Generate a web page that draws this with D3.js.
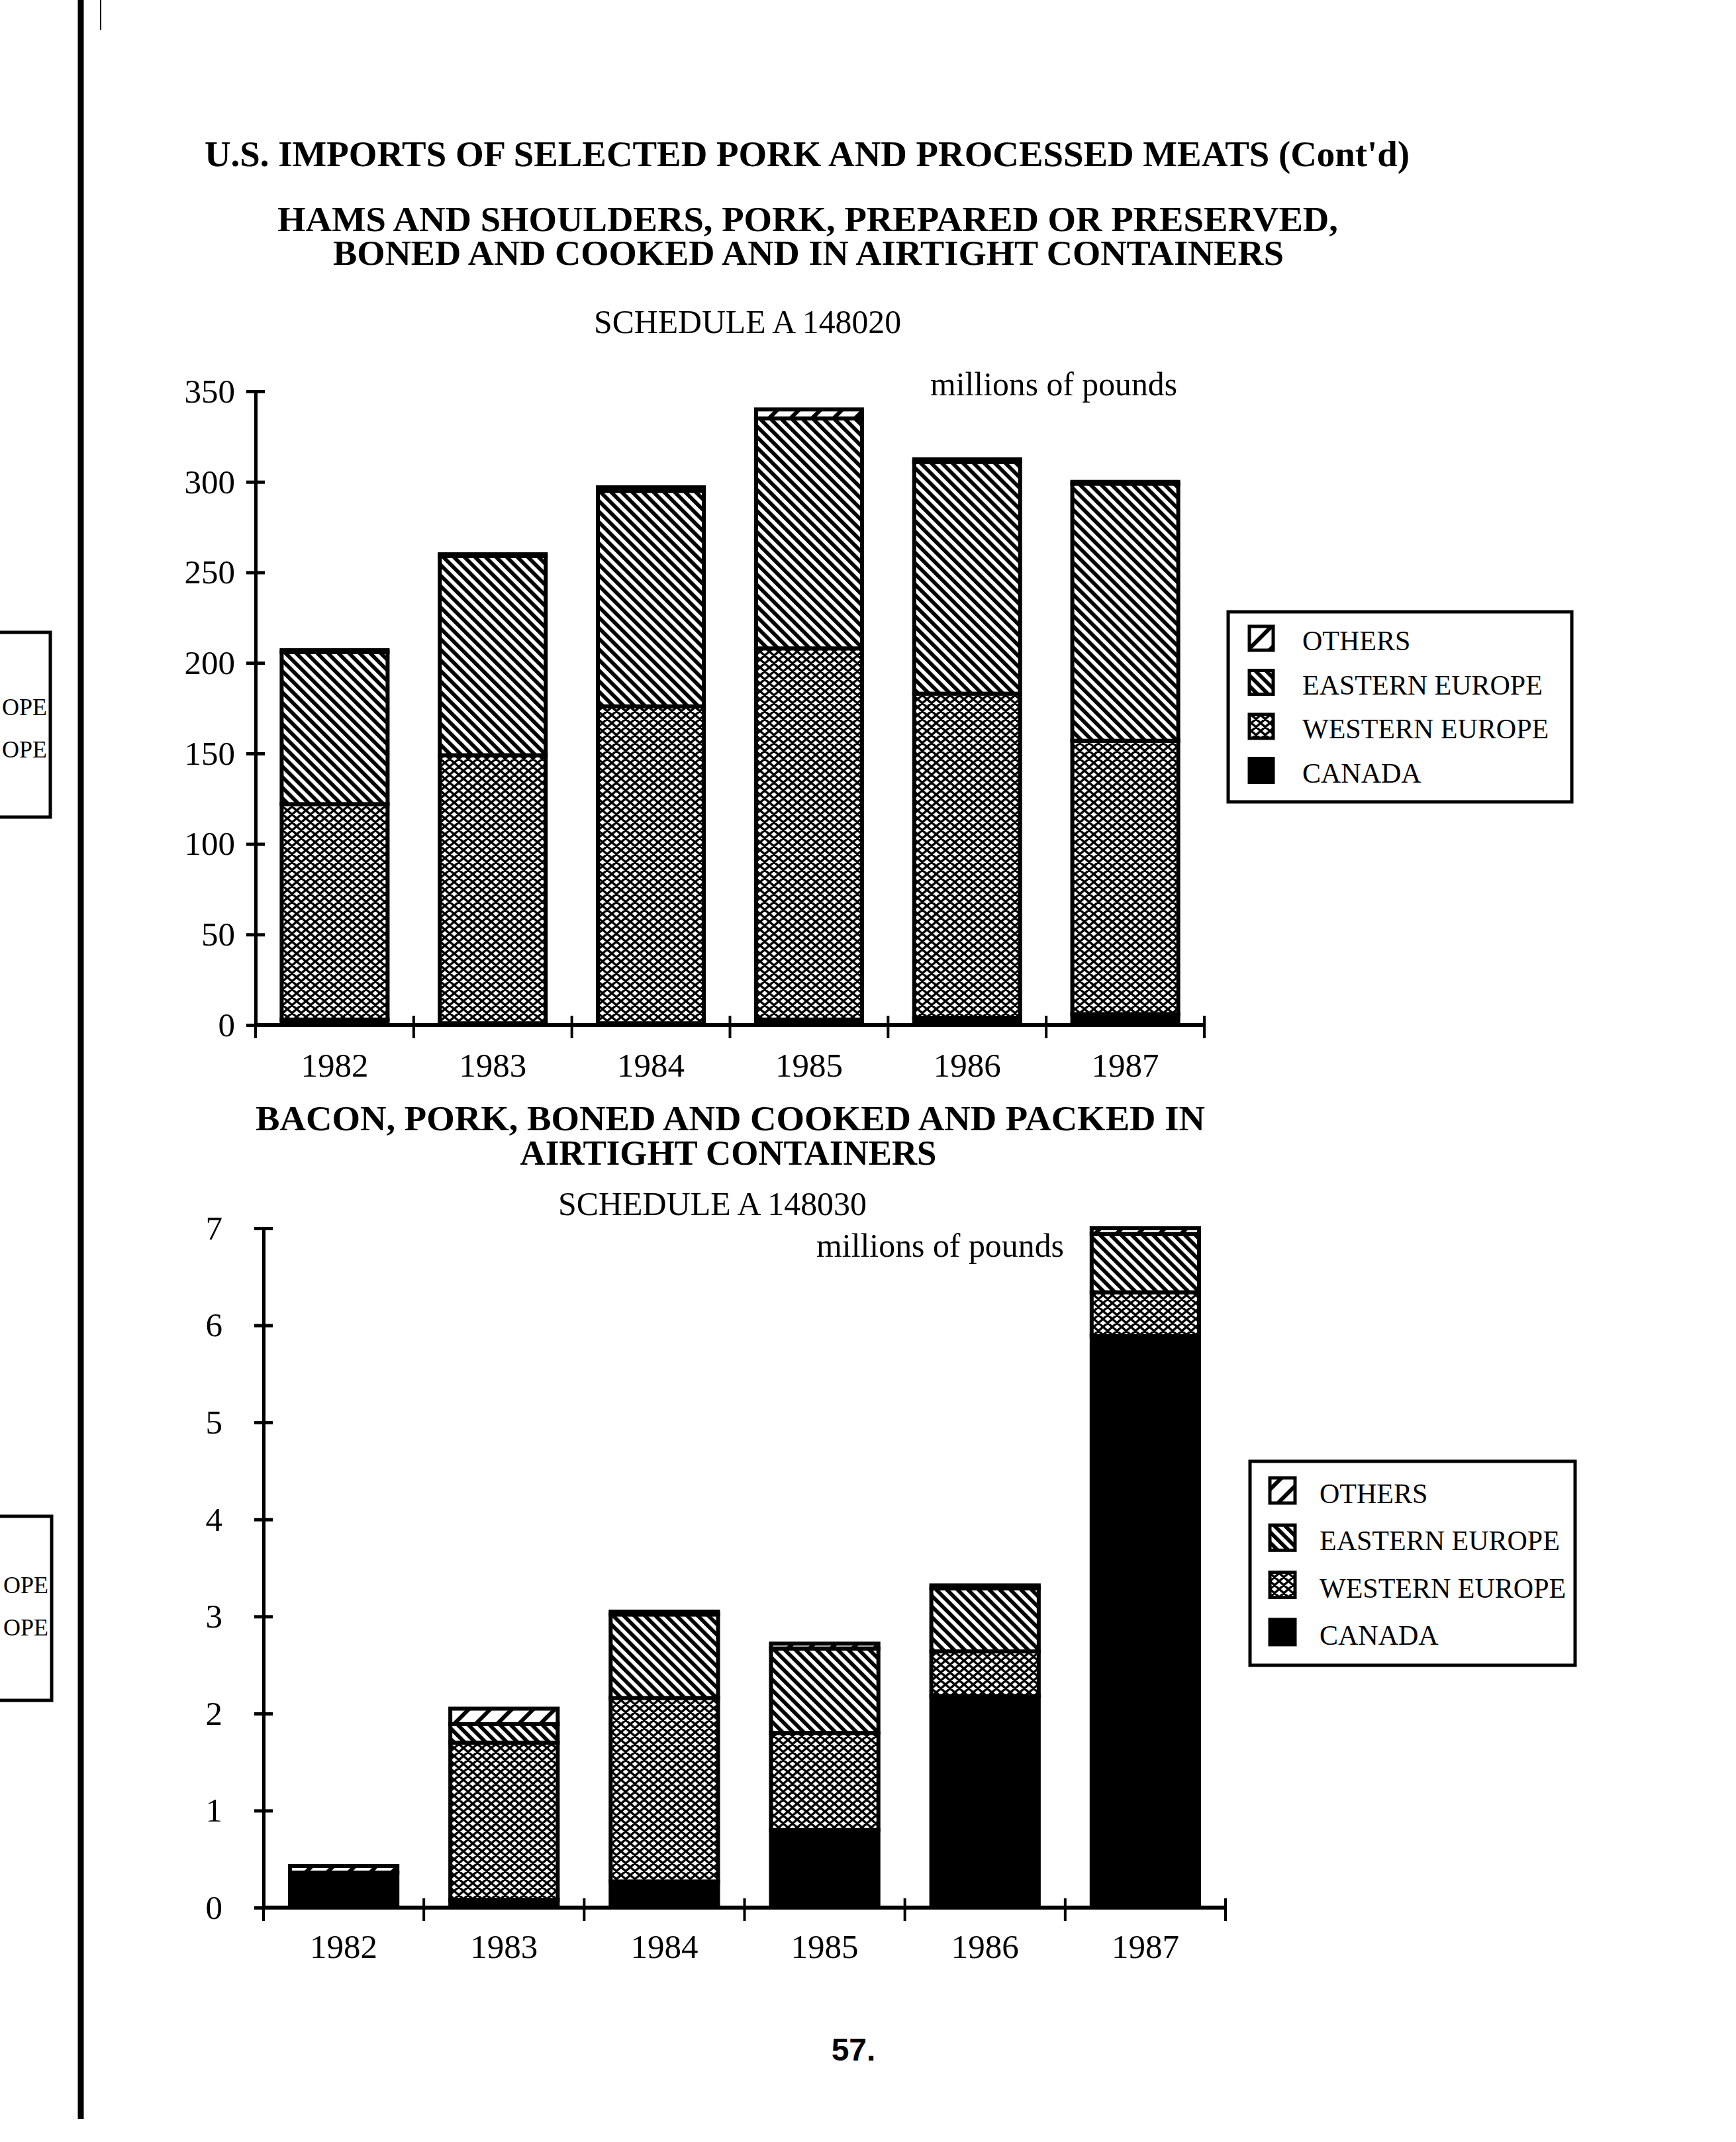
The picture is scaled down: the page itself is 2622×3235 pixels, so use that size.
<!DOCTYPE html>
<html>
<head>
<meta charset="utf-8">
<script src="https://cdn.jsdelivr.net/npm/d3@7"></script>
<style>
html,body{margin:0;padding:0;background:#fff;}
svg{display:block;}
</style>
</head>
<body>
<script>
// ---------- DATA ----------
const years = ["1982","1983","1984","1985","1986","1987"];
const seriesNames = ["CANADA","WESTERN EUROPE","EASTERN EUROPE","OTHERS"];
const legendOrder = ["OTHERS","EASTERN EUROPE","WESTERN EUROPE","CANADA"];

// Hams and shoulders (millions of pounds)
const hamsCanada  = [3, 1, 1, 3, 4, 6];
const hamsWestern = [119, 148, 175, 205, 179, 151];
const hamsEastern = [84, 110, 119, 127, 128, 142];
const hamsOthers  = [1, 1, 2, 5, 1.5, 1];
const hamsTicks   = [0, 50, 100, 150, 200, 250, 300, 350];

// Bacon (millions of pounds)
const baconCanada  = [0.36, 0.08, 0.27, 0.80, 2.18, 5.89];
const baconWestern = [0, 1.62, 1.89, 1.00, 0.46, 0.45];
const baconEastern = [0, 0.19, 0.86, 0.87, 0.65, 0.60];
const baconOthers  = [0.07, 0.16, 0.03, 0.05, 0.03, 0.06];
const baconTicks   = [0, 1, 2, 3, 4, 5, 6, 7];

// ---------- SETUP ----------
const W = 2622, H = 3235;
const SERIF = "'Liberation Serif','Times New Roman',Times,serif";
const svg = d3.select("body").append("svg").attr("width", W).attr("height", H);
svg.append("rect").attr("width", W).attr("height", H).attr("fill", "#fff");

const defs = svg.append("defs");
// Eastern Europe: "\" stripes
const pe = defs.append("pattern").attr("id","pEast").attr("patternUnits","userSpaceOnUse")
  .attr("width",11.3).attr("height",11.3).attr("patternTransform","rotate(-45)");
pe.append("rect").attr("width",11.3).attr("height",11.3).attr("fill","#fff");
pe.append("rect").attr("width",5.8).attr("height",11.3).attr("fill","#000");
// Western Europe: diamond crosshatch
const pw = defs.append("pattern").attr("id","pWest").attr("patternUnits","userSpaceOnUse")
  .attr("width",14).attr("height",12);
pw.append("rect").attr("width",14).attr("height",12).attr("fill","#fff");
pw.append("path").attr("d","M0,0L14,12M14,0L0,12M-7,6L7,-6M7,18L21,6M7,-6L21,6M-7,6L7,18")
  .attr("stroke","#000").attr("stroke-width",3.4).attr("fill","none");
// Others: sparse "/" stripes
const po = defs.append("pattern").attr("id","pOth").attr("patternUnits","userSpaceOnUse")
  .attr("width",23).attr("height",23).attr("patternTransform","rotate(45)");
po.append("rect").attr("width",23).attr("height",23).attr("fill","#fff");
po.append("rect").attr("width",6).attr("height",23).attr("fill","#000");

const fills = {
  "CANADA": "#000",
  "WESTERN EUROPE": "url(#pWest)",
  "EASTERN EUROPE": "url(#pEast)",
  "OTHERS": "url(#pOth)"
};

function text(x, y, s, opts) {
  const t = svg.append("text").attr("x", x).attr("y", y).text(s)
    .attr("font-family", opts.family || SERIF)
    .attr("font-size", opts.size)
    .attr("font-weight", opts.weight || "normal")
    .attr("text-anchor", opts.anchor || "start")
    .attr("fill", "#000");
  if (opts.len) t.attr("textLength", opts.len).attr("lengthAdjust", "spacingAndGlyphs");
  return t;
}

// ---------- CHART ----------
function drawChart(o) {
  const x = d3.scaleBand().domain(years).range([o.x0, o.x1]).paddingInner(0.33).paddingOuter(0.165);
  const y = d3.scaleLinear().domain([0, o.max]).range([o.yb, o.yt]);
  const rows = years.map((yr, i) => ({
    year: yr,
    "CANADA": o.canada[i],
    "WESTERN EUROPE": o.western[i],
    "EASTERN EUROPE": o.eastern[i],
    "OTHERS": o.others[i]
  }));
  const stacked = d3.stack().keys(seriesNames)(rows);
  const g = svg.append("g");

  stacked.forEach(layer => {
    g.append("g").selectAll("rect")
      .data(layer.filter(d => d[1] - d[0] > 0))
      .join("rect")
      .attr("x", d => x(d.data.year))
      .attr("width", x.bandwidth())
      .attr("y", d => y(d[1]))
      .attr("height", d => y(d[0]) - y(d[1]))
      .attr("fill", fills[layer.key])
      .attr("stroke", "#000")
      .attr("stroke-width", 6);
  });

  // Y axis
  const ya = g.append("g").attr("transform", `translate(${o.x0},0)`)
    .call(d3.axisLeft(y).tickValues(o.ticks).tickSizeInner(14).tickSizeOuter(0)
      .tickPadding(o.yPad).tickFormat(d3.format("d")));
  ya.select(".domain").attr("stroke", "#000").attr("stroke-width", 5);
  ya.selectAll(".tick line").attr("x1", 14).attr("stroke", "#000").attr("stroke-width", 5);
  ya.selectAll(".tick text").attr("font-family", SERIF).attr("font-size", 51).attr("fill", "#000");

  // X axis baseline and boundary ticks
  const bounds = years.map(yr => x(yr) - x.step() * x.paddingOuter()).concat([o.x1]);
  g.append("line").attr("x1", o.x0).attr("x2", o.x1).attr("y1", o.yb).attr("y2", o.yb)
    .attr("stroke", "#000").attr("stroke-width", 6);
  g.append("g").selectAll("line").data(bounds).join("line")
    .attr("x1", d => d).attr("x2", d => d)
    .attr("y1", o.yb - 14).attr("y2", o.yb + 20)
    .attr("stroke", "#000").attr("stroke-width", 4);

  // Year labels
  const xa = g.append("g").attr("transform", `translate(0,${o.yb})`)
    .call(d3.axisBottom(x).tickSize(0).tickPadding(o.xPad));
  xa.select(".domain").remove();
  xa.selectAll(".tick text").attr("font-family", SERIF).attr("font-size", 51).attr("fill", "#000");
}

function drawLegend(o) {
  svg.append("rect").attr("x", o.x).attr("y", o.y).attr("width", o.w).attr("height", o.h)
    .attr("fill", "#fff").attr("stroke", "#000").attr("stroke-width", 5);
  legendOrder.forEach((name, i) => {
    const by = o.firstBase + i * o.step;
    svg.append("rect").attr("x", o.sx).attr("y", by - o.ss).attr("width", o.ss).attr("height", o.ss)
      .attr("fill", fills[name]).attr("stroke", "#000").attr("stroke-width", 5);
    text(o.tx, by, name, {size: 42});
  });
}

// ---------- PAGE DECORATION ----------
svg.append("line").attr("x1", 122).attr("x2", 122).attr("y1", 0).attr("y2", 3200)
  .attr("stroke", "#000").attr("stroke-width", 9);
svg.append("line").attr("x1", 152).attr("x2", 152).attr("y1", 0).attr("y2", 45)
  .attr("stroke", "#000").attr("stroke-width", 2);

// cut-off legend boxes from the facing page (only the visible fragments)
svg.append("rect").attr("x", -20).attr("y", 955).attr("width", 96).attr("height", 279)
  .attr("fill", "none").attr("stroke", "#000").attr("stroke-width", 5);
text(3, 1080, "OPE", {size: 36});
text(3, 1144, "OPE", {size: 36});
svg.append("rect").attr("x", -20).attr("y", 2290).attr("width", 98).attr("height", 278)
  .attr("fill", "none").attr("stroke", "#000").attr("stroke-width", 5);
text(5, 2406, "OPE", {size: 36});
text(5, 2470, "OPE", {size: 36});

// ---------- TITLES ----------
text(1219, 251, "U.S. IMPORTS OF SELECTED PORK AND PROCESSED MEATS (Cont'd)", {size: 54, weight: "bold", anchor: "middle", len: 1820});
text(1220, 349, "HAMS AND SHOULDERS, PORK, PREPARED OR PRESERVED,", {size: 52, weight: "bold", anchor: "middle", len: 1602});
text(1221, 400, "BONED AND COOKED AND IN AIRTIGHT CONTAINERS", {size: 52, weight: "bold", anchor: "middle", len: 1436});
text(1129, 503, "SCHEDULE A 148020", {size: 50, anchor: "middle", len: 464});
text(1405, 597, "millions of pounds", {size: 50, len: 373});

text(1103, 1707, "BACON, PORK, BONED AND COOKED AND PACKED IN", {size: 52, weight: "bold", anchor: "middle", len: 1434});
text(1100, 1759, "AIRTIGHT CONTAINERS", {size: 52, weight: "bold", anchor: "middle", len: 629});
text(1076, 1835, "SCHEDULE A 148030", {size: 50, anchor: "middle", len: 466});
text(1233, 1898, "millions of pounds", {size: 50, len: 374});

// ---------- CHARTS ----------
drawChart({
  x0: 386, x1: 1819, yb: 1548, yt: 591, max: 350,
  ticks: hamsTicks, yPad: 17, xPad: 42,
  canada: hamsCanada, western: hamsWestern, eastern: hamsEastern, others: hamsOthers
});
drawChart({
  x0: 398, x1: 1851, yb: 2881, yt: 1855, max: 7,
  ticks: baconTicks, yPad: 48, xPad: 40,
  canada: baconCanada, western: baconWestern, eastern: baconEastern, others: baconOthers
});

drawLegend({x: 1855, y: 924, w: 519, h: 287, sx: 1887, ss: 36, tx: 1967, firstBase: 982, step: 66.5});
drawLegend({x: 1888, y: 2207, w: 491, h: 308, sx: 1918, ss: 38, tx: 1993, firstBase: 2270, step: 71.3});

// page number
text(1289, 3112, "57.", {size: 48, anchor: "middle", weight: "bold", family: "'Liberation Sans',Arial,sans-serif"});
</script>
</body>
</html>
